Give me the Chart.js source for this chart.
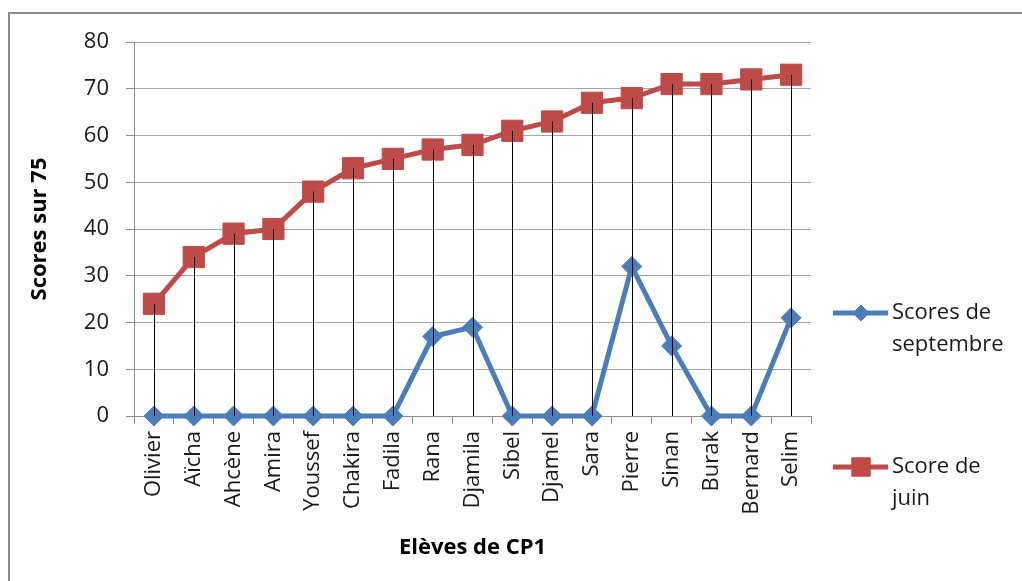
<!DOCTYPE html>
<html>
<head>
<meta charset="utf-8">
<script src="https://cdn.jsdelivr.net/npm/chart.js@4/dist/chart.umd.min.js"></script>
<style>
  html, body { margin: 0; padding: 0; background: #fff; }
  #wrap { position: relative; width: 1022px; height: 581px; }
</style>
</head>
<body>
<div id="wrap"><canvas id="scores" width="1022" height="581"></canvas></div>
<script>
// Chart data
const students = ["Olivier", "Aïcha", "Ahcène", "Amira", "Youssef", "Chakira", "Fadila", "Rana",
  "Djamila", "Sibel", "Djamel", "Sara", "Pierre", "Sinan", "Burak", "Bernard", "Selim"];
const septScores = [0, 0, 0, 0, 0, 0, 0, 17, 19, 0, 0, 0, 32, 15, 0, 0, 21];
const juneScores = [24, 34, 39, 40, 48, 53, 55, 57, 58, 61, 63, 67, 68, 71, 71, 72, 73];
const seriesNames = [["Scores de", "septembre"], ["Score de", "juin"]];

const FONT = "'Open Sans', 'Liberation Sans', sans-serif";
const BLUE = "#4A7EBB";
const RED = "#BE4B48";
const AXIS_GREY = "#8c8c8c";

// grey frame round the whole chart
const frame = {
  id: "frame",
  beforeDraw(chart) {
    const ctx = chart.ctx;
    ctx.save();
    ctx.strokeStyle = AXIS_GREY;
    ctx.lineWidth = 2;
    ctx.strokeRect(9, 13, 1100, 700);
    ctx.restore();
  }
};

// black drop lines from each June point down to zero
const dropLines = {
  id: "dropLines",
  afterDatasetsDraw(chart) {
    const ctx = chart.ctx;
    const y0 = chart.scales.y.getPixelForValue(0);
    const meta = chart.getDatasetMeta(1);
    ctx.save();
    ctx.strokeStyle = "#000";
    ctx.lineWidth = 1;
    meta.data.forEach(pt => {
      const x = Math.round(pt.x) + 0.5;
      ctx.beginPath();
      ctx.moveTo(x, pt.y);
      ctx.lineTo(x, y0);
      ctx.stroke();
    });
    ctx.restore();
  }
};

// legend on the right, with wrapped labels
const sideLegend = {
  id: "sideLegend",
  afterDraw(chart) {
    const ctx = chart.ctx;
    const x0 = chart.chartArea.right + 22;
    const rows = [313, 467];
    ctx.save();
    chart.data.datasets.forEach((ds, i) => {
      const y = rows[i];
      ctx.strokeStyle = ds.borderColor;
      ctx.fillStyle = ds.borderColor;
      ctx.lineWidth = 5;
      ctx.beginPath();
      ctx.moveTo(x0, y);
      ctx.lineTo(x0 + 55, y);
      ctx.stroke();
      ctx.lineWidth = 1;
      Chart.helpers.drawPoint(ctx, {
        pointStyle: ds.pointStyle,
        radius: i === 0 ? 8 : 13,
        rotation: 0,
        borderWidth: 1
      }, x0 + 28, y);
      ctx.fillStyle = "#1a1a1a";
      ctx.font = "22px " + FONT;
      ctx.textBaseline = "middle";
      ctx.textAlign = "left";
      seriesNames[i].forEach((line, j) => ctx.fillText(line, x0 + 59, y + j * 32));
    });
    ctx.restore();
  }
};

new Chart(document.getElementById("scores"), {
  type: "line",
  data: {
    labels: students,
    datasets: [
      {
        label: seriesNames[0].join(" "),
        data: septScores,
        borderColor: BLUE,
        backgroundColor: BLUE,
        borderWidth: 5,
        pointStyle: "rectRot",
        pointRadius: 10,
        pointBorderWidth: 1,
        tension: 0,
        clip: false
      },
      {
        label: seriesNames[1].join(" "),
        data: juneScores,
        borderColor: RED,
        backgroundColor: RED,
        borderWidth: 5,
        pointStyle: "rect",
        pointRadius: 15,
        pointBorderWidth: 1,
        tension: 0,
        clip: false
      }
    ]
  },
  options: {
    responsive: false,
    animation: false,
    layout: { padding: { left: 0, top: 42, right: 211, bottom: 0 } },
    plugins: {
      legend: { display: false },
      tooltip: { enabled: false }
    },
    scales: {
      x: {
        offset: true,
        afterFit: scale => { scale.height = 165; },
        grid: { display: true, drawOnChartArea: false, drawTicks: true, offset: true, tickLength: 8, color: AXIS_GREY },
        border: { color: AXIS_GREY, width: 1 },
        ticks: {
          autoSkip: false, minRotation: 90, maxRotation: 90, padding: 7,
          color: "#1a1a1a", font: { family: FONT, size: 22 }
        },
        title: {
          display: true, text: "Elèves de CP1", color: "#000",
          font: { family: FONT, size: 22, weight: "bold" },
          padding: { top: 0, bottom: 20 }
        }
      },
      y: {
        min: 0,
        max: 80,
        afterFit: scale => { scale.width = 134; },
        grid: { color: "#a6a6a6", tickLength: 8, tickColor: AXIS_GREY },
        border: { color: AXIS_GREY, width: 1 },
        ticks: {
          stepSize: 10, padding: 17,
          color: "#1a1a1a", font: { family: FONT, size: 22 }
        },
        title: {
          display: true, text: "Scores sur 75", color: "#000",
          font: { family: FONT, size: 22, weight: "bold" },
          padding: { top: 27, bottom: 0 }
        }
      }
    }
  },
  plugins: [frame, dropLines, sideLegend]
});
</script>
</body>
</html>
